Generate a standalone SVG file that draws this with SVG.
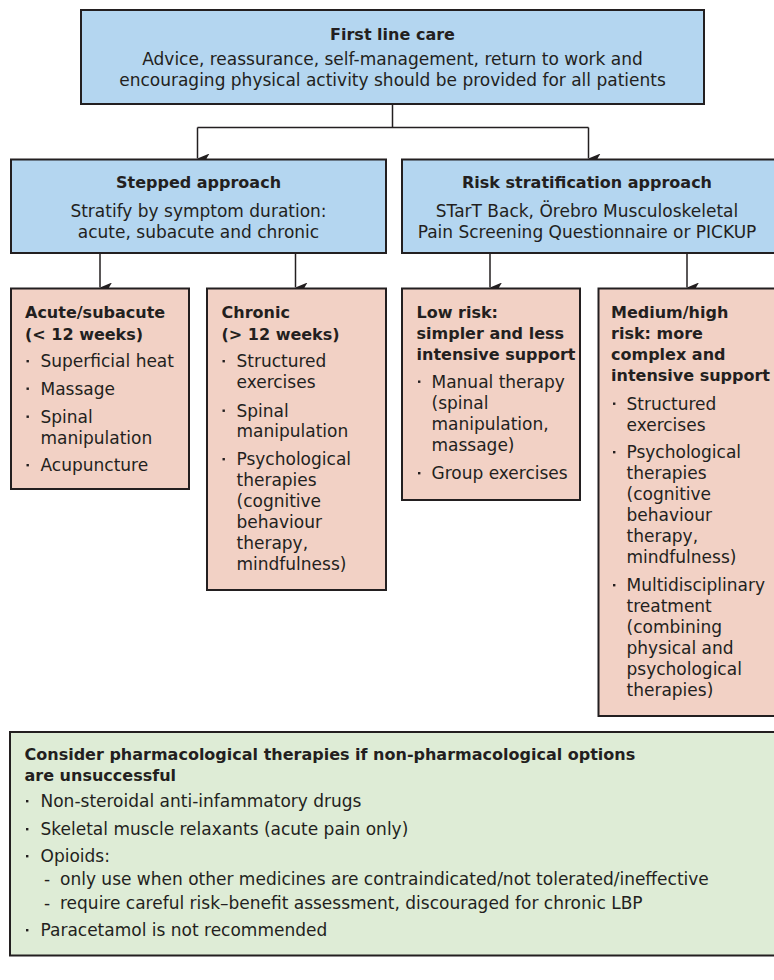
<svg xmlns="http://www.w3.org/2000/svg" width="774" height="980" viewBox="0 0 774 980">
<defs>
<style>
.box{stroke:#231f20;stroke-width:2}
.blue{fill:#b4d6f0}
.pink{fill:#f2d1c5}
.green{fill:#deecd6}
text{font-family:"DejaVu Sans","Open Sans",sans-serif;fill:#231f20}
.t{font-size:16px;font-weight:bold}
.b{font-size:17px}
.c{text-anchor:middle}
.conn{stroke:#231f20;stroke-width:1.5;fill:none}
.dot{fill:#231f20}
</style>
<marker id="arr" viewBox="0 0 10 12" refX="5" refY="12" markerWidth="10" markerHeight="12" markerUnits="userSpaceOnUse" orient="auto-start-reverse">
<path d="M0,0 L5,3 L10,0 L5,12 Z" fill="#231f20"/>
</marker>
<rect id="bd" class="dot" width="2.4" height="2.4"/>
</defs>
<rect width="774" height="980" fill="#ffffff"/>

<g id="connectors">
<path class="conn" d="M392.5,104 V127.5"/>
<path class="conn" d="M197.5,127.5 H588.5"/>
<path class="conn" d="M197.5,127.5 V158.5" marker-end="url(#arr)"/>
<path class="conn" d="M588.5,127.5 V158.5" marker-end="url(#arr)"/>
<path class="conn" d="M100,253 V287.5" marker-end="url(#arr)"/>
<path class="conn" d="M295.5,253 V287.5" marker-end="url(#arr)"/>
<path class="conn" d="M490,253 V287.5" marker-end="url(#arr)"/>
<path class="conn" d="M687,253 V287.5" marker-end="url(#arr)"/>
</g>

<g id="first-line">
<rect class="box blue" x="81" y="10" width="623" height="94"/>
<text class="t c" x="392.5" y="40">First line care</text>
<text class="b c"><tspan x="392.5" y="65">Advice, reassurance, self-management, return to work and</tspan><tspan x="392.5" y="86">encouraging physical activity should be provided for all patients</tspan></text>
</g>

<g id="stepped">
<rect class="box blue" x="11" y="159.5" width="375" height="93.5"/>
<text class="t c" x="198.5" y="188">Stepped approach</text>
<text class="b c"><tspan x="198.5" y="216.5">Stratify by symptom duration:</tspan><tspan x="198.5" y="237.5">acute, subacute and chronic</tspan></text>
</g>

<g id="risk">
<rect class="box blue" x="402" y="159.5" width="376" height="93.5"/>
<text class="t c" x="587" y="188">Risk stratification approach</text>
<text class="b c"><tspan x="587" y="216.5">STarT Back, Örebro Musculoskeletal</tspan><tspan x="587" y="237.5">Pain Screening Questionnaire or PICKUP</tspan></text>
</g>

<g id="acute">
<rect class="box pink" x="11" y="288.5" width="178" height="200.5"/>
<text class="t"><tspan x="25" y="318">Acute/subacute</tspan><tspan x="25" y="339.5">(&lt; 12 weeks)</tspan></text>
<use href="#bd" x="26.5" y="360"/><use href="#bd" x="26.5" y="387.5"/><use href="#bd" x="26.5" y="415.5"/><use href="#bd" x="26.5" y="464"/>
<text class="b"><tspan x="40.5" y="367">Superficial heat</tspan><tspan x="40.5" y="394.5">Massage</tspan><tspan x="40.5" y="422.5">Spinal</tspan><tspan x="40.5" y="443.5">manipulation</tspan><tspan x="40.5" y="471">Acupuncture</tspan></text>
</g>

<g id="chronic">
<rect class="box pink" x="207" y="288.5" width="179" height="301.5"/>
<text class="t"><tspan x="221.5" y="318">Chronic</tspan><tspan x="221.5" y="339.5">(&gt; 12 weeks)</tspan></text>
<use href="#bd" x="222.5" y="360"/><use href="#bd" x="222.5" y="409.5"/><use href="#bd" x="222.5" y="458"/>
<text class="b"><tspan x="236.5" y="367">Structured</tspan><tspan x="236.5" y="388">exercises</tspan><tspan x="236.5" y="416.5">Spinal</tspan><tspan x="236.5" y="437">manipulation</tspan><tspan x="236.5" y="465">Psychological</tspan><tspan x="236.5" y="486">therapies</tspan><tspan x="236.5" y="507">(cognitive</tspan><tspan x="236.5" y="528">behaviour</tspan><tspan x="236.5" y="549">therapy,</tspan><tspan x="236.5" y="570">mindfulness)</tspan></text>
</g>

<g id="low-risk">
<rect class="box pink" x="402" y="288.5" width="178" height="211.5"/>
<text class="t"><tspan x="416.5" y="318">Low risk:</tspan><tspan x="416.5" y="339">simpler and less</tspan><tspan x="416.5" y="360">intensive support</tspan></text>
<use href="#bd" x="418" y="380.5"/><use href="#bd" x="418" y="472"/>
<text class="b"><tspan x="431.5" y="387.5">Manual therapy</tspan><tspan x="431.5" y="409">(spinal</tspan><tspan x="431.5" y="430">manipulation,</tspan><tspan x="431.5" y="451">massage)</tspan><tspan x="431.5" y="479">Group exercises</tspan></text>
</g>

<g id="medium-high-risk">
<rect class="box pink" x="598.5" y="288.5" width="180" height="427.5"/>
<text class="t"><tspan x="611" y="318">Medium/high</tspan><tspan x="611" y="339">risk: more</tspan><tspan x="611" y="360">complex and</tspan><tspan x="611" y="381">intensive support</tspan></text>
<use href="#bd" x="613" y="402.5"/><use href="#bd" x="613" y="451"/><use href="#bd" x="613" y="584"/>
<text class="b"><tspan x="626.5" y="409.5">Structured</tspan><tspan x="626.5" y="430.5">exercises</tspan><tspan x="626.5" y="458">Psychological</tspan><tspan x="626.5" y="479">therapies</tspan><tspan x="626.5" y="500">(cognitive</tspan><tspan x="626.5" y="521">behaviour</tspan><tspan x="626.5" y="542">therapy,</tspan><tspan x="626.5" y="563">mindfulness)</tspan><tspan x="626.5" y="591">Multidisciplinary</tspan><tspan x="626.5" y="612">treatment</tspan><tspan x="626.5" y="633">(combining</tspan><tspan x="626.5" y="654">physical and</tspan><tspan x="626.5" y="675">psychological</tspan><tspan x="626.5" y="696">therapies)</tspan></text>
</g>

<g id="pharmacological">
<rect class="box green" x="10" y="732" width="768" height="223.5"/>
<text class="t"><tspan x="24.5" y="759.5">Consider pharmacological therapies if non-pharmacological options</tspan><tspan x="24.5" y="781">are unsuccessful</tspan></text>
<use href="#bd" x="26" y="800"/><use href="#bd" x="26" y="828"/><use href="#bd" x="26" y="855"/><use href="#bd" x="26" y="929"/>
<text class="b"><tspan x="40.5" y="807">Non-steroidal anti-infammatory drugs</tspan><tspan x="40.5" y="835">Skeletal muscle relaxants (acute pain only)</tspan><tspan x="40.5" y="862">Opioids:</tspan><tspan x="44" y="885">-</tspan><tspan x="60" y="885">only use when other medicines are contraindicated/not tolerated/ineffective</tspan><tspan x="44" y="908.5">-</tspan><tspan x="60" y="908.5">require careful risk–benefit assessment, discouraged for chronic LBP</tspan><tspan x="40.5" y="936">Paracetamol is not recommended</tspan></text>
</g>
</svg>
